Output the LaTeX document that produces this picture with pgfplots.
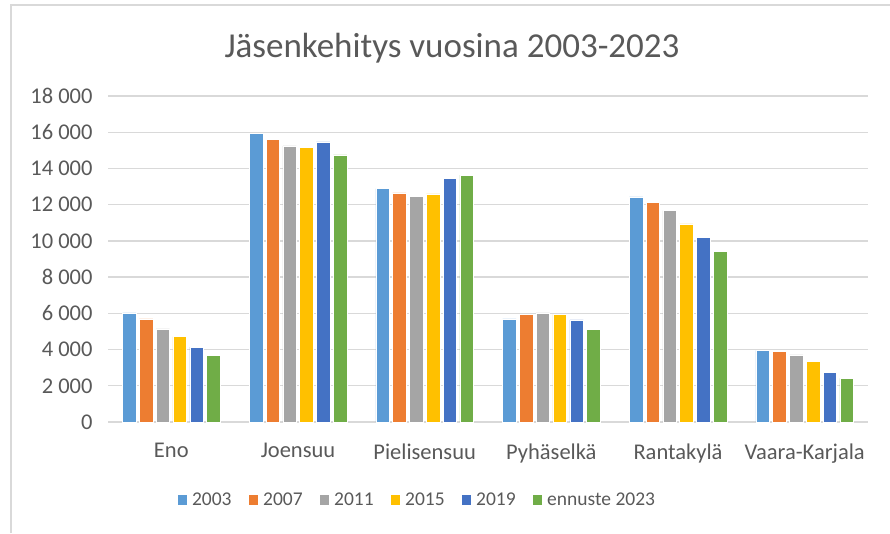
\documentclass[border=0pt]{standalone}
\usepackage{pgfplots}
\pgfplotsset{compat=1.18}
\usepackage{fontspec}
\setmainfont{Carlito}
\definecolor{c03}{HTML}{5B9BD5}
\definecolor{c07}{HTML}{ED7D31}
\definecolor{c11}{HTML}{A5A5A5}
\definecolor{c15}{HTML}{FFC000}
\definecolor{c19}{HTML}{4472C4}
\definecolor{c23}{HTML}{70AD47}
\definecolor{txt}{HTML}{595959}
\definecolor{gridc}{HTML}{D9D9D9}
\begin{document}
\begin{tikzpicture}[x=1pt,y=1pt]
\path[use as bounding box] (0,0) rectangle (890,533);
\draw[gridc, line width=1.5pt] (11,0) -- (11,528) -- (890,528);
\node[txt, font=\fontsize{35}{40}\selectfont] at (452,485) {Jäsenkehitys vuosina 2003-2023};
\begin{axis}[
  at={(108pt,111pt)}, anchor=south west,
  scale only axis, width=760pt, height=326pt,
  ybar=3.3pt, bar width=13.5pt,
  xmin=-0.5, xmax=5.5, ymin=0, ymax=18000,
  xtick=data,
  xticklabels={Eno,Joensuu,Pielisensuu,Pyhäselkä,Rantakylä,Vaara-Karjala},
  ytick={0,2000,...,18000},
  yticklabels={0,2 000,4 000,6 000,8 000,10 000,12 000,14 000,16 000,18 000},
  scaled y ticks=false,
  major tick length=0pt,
  axis y line*=left,
  y axis line style={draw=none},
  axis x line*=bottom,
  x axis line style={draw=gridc, line width=1.3pt, -},
  ymajorgrids, grid style={draw=gridc, line width=1.3pt},
  tick label style={txt, font=\fontsize{22.5}{26}\selectfont},
  yticklabel style={xshift=-12pt},
  xticklabel style={yshift=-18pt},
  every axis plot/.append style={draw=white, line width=0.5pt},
  legend columns=6,
  legend style={draw=none, fill=none, at={(0.407,-0.24)}, anchor=center,
    font=\fontsize{19.5}{22}\selectfont, text=txt,
    /tikz/every odd column/.append style={column sep=3pt},
    /tikz/every even column/.append style={column sep=15pt}},
  legend image code/.code={\fill[#1,draw=none] (0pt,-4.5pt) rectangle (9.5pt,5pt);},
]
\addplot[fill=c03] coordinates {(0,6020) (1,15930) (2,12890) (3,5690) (4,12430) (5,3960)};
\addplot[fill=c07] coordinates {(0,5690) (1,15600) (2,12650) (3,5945) (4,12130) (5,3900)};
\addplot[fill=c11] coordinates {(0,5140) (1,15250) (2,12450) (3,6020) (4,11670) (5,3700)};
\addplot[fill=c15] coordinates {(0,4710) (1,15170) (2,12600) (3,5945) (4,10940) (5,3350)};
\addplot[fill=c19] coordinates {(0,4140) (1,15470) (2,13440) (3,5635) (4,10200) (5,2760)};
\addplot[fill=c23] coordinates {(0,3680) (1,14750) (2,13625) (3,5115) (4,9425) (5,2410)};
\legend{2003,2007,2011,2015,2019,ennuste 2023}
\end{axis}
\end{tikzpicture}
\end{document}
